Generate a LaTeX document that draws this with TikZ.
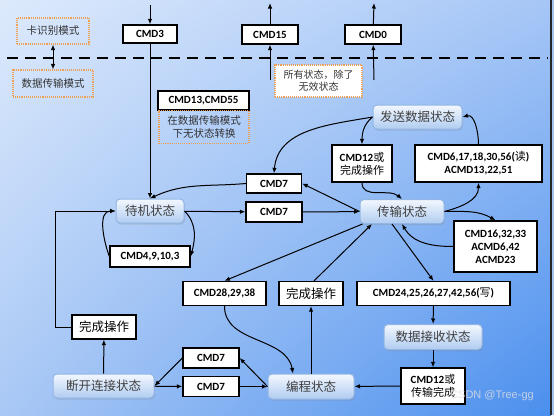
\documentclass[tikz,border=0pt]{standalone}
\usepackage{fontspec}
\setmainfont{Carlito}
\newfontfamily\cjk{Noto Sans CJK SC}
\newfontfamily\markfont{Liberation Sans}
\usetikzlibrary{shadows,shadings,arrows.meta}
\definecolor{bgtl}{HTML}{DDEAFC}
\definecolor{bgtr}{HTML}{A6C6F6}
\definecolor{bgbl}{HTML}{A9C8F5}
\definecolor{bgbr}{HTML}{4A8FEE}
\definecolor{bgside}{HTML}{A4C4F4}
\definecolor{stateline}{HTML}{94B6E4}
\definecolor{statetop}{HTML}{F3F8FE}
\definecolor{statebot}{HTML}{B0CCF1}
\definecolor{noteline}{HTML}{F0A055}
\newcommand{\zh}[1]{{\cjk\mdseries #1}}

\begin{document}
\begin{tikzpicture}[x=1pt,y=-1pt,>={Latex[length=5.5pt,width=4.5pt]},line width=1pt,
    state/.style={rounded corners=4pt,draw=stateline,top color=statetop,bottom color=statebot,
        drop shadow={opacity=0.25,shadow xshift=1pt,shadow yshift=-1.5pt},
        font=\cjk\fontsize{12.5}{14}\selectfont,text=black!75,minimum height=25pt,inner sep=2pt},
    cmd/.style={draw,fill=white,line width=1.3pt,font=\bfseries\fontsize{11}{13}\selectfont,
        align=center,inner sep=2pt,minimum height=19pt},
    note/.style={draw=noteline,densely dotted,line width=1.1pt,font=\cjk\fontsize{10.5}{12.5}\selectfont,
        align=center,text=black!80,inner sep=2pt}]

    \useasboundingbox (0,0) rectangle (554,415);
    \shade[upper left=bgtl,upper right=bgtr,lower left=bgbl,lower right=bgbr] (0,0) rectangle (551,415);
    \fill[bgside] (551,0) rectangle (554,415);
    \draw[line width=1.2pt,black!85] (551,0) -- (551,415);
    \draw[line width=2.6pt,dash pattern=on 11pt off 7pt] (7,58) -- (548,58);

    % modes
    \node[note,minimum width=72pt,minimum height=26pt] (card) at (53,31) {卡识别模式};
    \node[note,minimum width=80pt,minimum height=27pt] (data) at (53,83.5) {数据传输模式};
    \node[note,fill=white,minimum width=87pt,minimum height=32pt,font=\cjk\fontsize{10}{12}\selectfont] (all) at (318.5,81) {所有状态，除了\\无效状态};

    % top commands
    \node[cmd,minimum width=54pt,minimum height=18pt] (cmd3) at (150,34) {CMD3};
    \node[cmd,minimum width=56pt] (cmd15) at (270,34.5) {CMD15};
    \node[cmd,minimum width=56pt] (cmd0) at (373,34.5) {CMD0};
    \coordinate (t3) at (150,5);
    \coordinate (t15) at (270,3);
    \coordinate (b15) at (270,80);
    \coordinate (t0) at (374,3);
    \coordinate (b0) at (374,80);

    \node[cmd,minimum width=91pt] (cmd13) at (203.5,100.5) {CMD13,CMD55};
    \node[note,minimum width=90pt,minimum height=33pt] (nostate) at (204,127) {在数据传输模式\\下无状态转换};

    % states
    \node[state,minimum width=89pt,minimum height=24pt] (send) at (417.5,117) {发送数据状态};
    \node[state,minimum width=68pt,minimum height=24pt] (stby) at (150,211) {待机状态};
    \node[state,minimum width=84pt,minimum height=24pt] (tran) at (402,211.5) {传输状态};
    \node[state,minimum width=98pt] (recv) at (433,337) {数据接收状态};
    \node[state,minimum width=101pt,minimum height=24pt] (dis) at (103.5,386) {断开连接状态};
    \node[state,minimum width=86pt] (prg) at (311,386.5) {编程状态};

    % commands
    \node[cmd,minimum width=60pt,minimum height=37pt] (cmd12a) at (362,163.5) {CMD12\zh{或}\\\zh{完成操作}};
    \node[cmd,minimum width=127pt,minimum height=37pt] (cmd6) at (478.5,163.5) {CMD6,17,18,30,56(\zh{读})\\ACMD13,22,51};
    \node[cmd,minimum width=55pt] (cmd7a) at (274,183.5) {CMD7};
    \node[cmd,minimum width=56pt,minimum height=20pt] (cmd7b) at (274,212) {CMD7};
    \node[cmd,minimum width=80pt,minimum height=21pt] (cmd4) at (150,256.5) {CMD4,9,10,3};
    \node[cmd,minimum width=83pt,minimum height=51pt] (cmd16) at (495.5,246.5) {CMD16,32,33\\ACMD6,42\\ACMD23};
    \node[cmd,minimum width=83pt,minimum height=24pt] (cmd28) at (224.5,293.5) {CMD28,29,38};
    \node[cmd,minimum width=64pt,minimum height=24pt,font=\cjk\mdseries\fontsize{12.5}{14}\selectfont] (done2) at (311,293.5) {完成操作};
    \node[cmd,minimum width=153pt,minimum height=24pt] (cmd24) at (433.5,293.5) {CMD24,25,26,27,42,56(\zh{写})};
    \node[cmd,minimum width=64pt,minimum height=24pt,font=\cjk\mdseries\fontsize{12.5}{14}\selectfont] (done1) at (104,327) {完成操作};
    \node[cmd,minimum width=56pt,minimum height=20pt] (cmd7c) at (211,358) {CMD7};
    \node[cmd,minimum width=56pt,minimum height=20pt] (cmd7d) at (211,386.5) {CMD7};
    \node[cmd,minimum width=64pt,minimum height=36pt] (cmd12b) at (433,386) {CMD12\zh{或}\\\zh{传输完成}};
    \coordinate (bend1) at (55,327);

    \node[font=\markfont\fontsize{11}{13}\selectfont,text=white!88!black,opacity=0.8] (mark) at (492,396) {CSDN @Tree-gg};

    \path[->]
        (card) edge[<->] (data)
        (t3) edge (cmd3)
        (cmd3) edge (stby)
        (b15) edge (cmd15)
        (cmd15) edge (t15)
        (b0) edge (cmd0)
        (cmd0) edge (t0)

        (stby) edge (cmd7b)
        (cmd7b) edge (tran)
        (tran.west) edge (cmd7a.east)
        (cmd7a.west) edge[out=185,in=25] (stby.north)
        (stby.east) edge[out=-45,in=75] (cmd4.east)
        (cmd4.west) edge[out=110,in=180] (stby.west)

        (send.west) edge[out=190,in=85] (cmd7a.north)
        (send.west) edge[out=220,in=90] (cmd12a.north)
        (cmd12a.south) edge[out=-90,in=140] (tran.north)
        (tran.east) edge[out=15,in=-90] (cmd6.south)
        (cmd6.north) edge[out=90,in=15] (send.east)
        (tran.east) edge[out=0,in=150] (cmd16.north)
        (cmd16.west) edge[out=180,in=-60] (tran.south)

        ([xshift=3pt]tran.south west) edge (cmd28.north)
        (cmd28.south) edge[out=-90,in=100] ([xshift=-18pt]prg.north)
        (prg) edge (done2)
        ([xshift=3pt]done2.north) edge ([xshift=-30pt]tran.south)
        ([xshift=-10pt]tran.south) edge (cmd24.north)
        (cmd24) edge (recv)
        (recv) edge (cmd12b)
        (cmd12b) edge (prg)

        (dis) edge (done1)
        (dis) edge (cmd7d)
        (cmd7d) edge (prg)
        (prg.west) edge (cmd7c.east)
        (cmd7c.west) edge (dis.east)
    ;
    \draw[->] (done1.west) -- (bend1) |- (stby.west);
\end{tikzpicture}
\end{document}
